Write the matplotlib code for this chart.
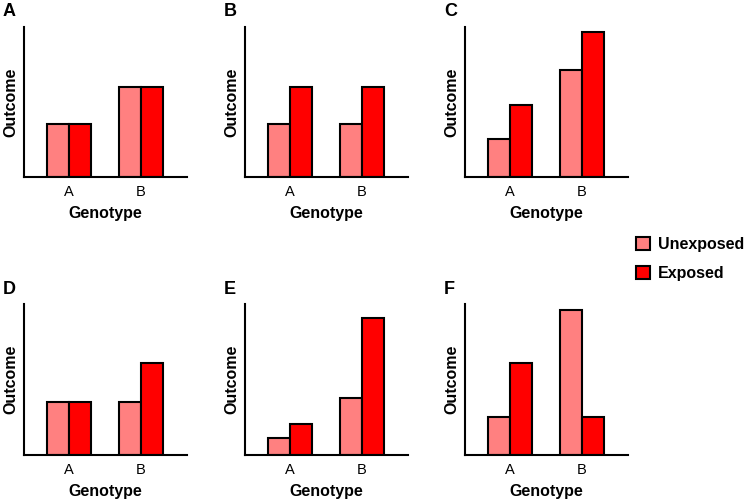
import matplotlib
matplotlib.use("Agg")
import matplotlib.pyplot as plt
import numpy as np

plt.rcParams['font.family'] = ['Liberation Sans', 'DejaVu Sans']

genotypes = ["A", "B"]
panel_names = ["A", "B", "C", "D", "E", "F"]
# outcome per panel, values for genotype A and B
unexposed = [[53, 90], [53, 53], [38, 107], [53, 53], [17, 57], [38, 144]]
exposed = [[53, 90], [90, 90], [72, 145], [53, 91], [31, 136], [91, 38]]

col_light = "#ff8080"
col_dark = "#ff0000"

fig = plt.figure(figsize=(7.5, 5.03), dpi=100)
W, H = 750.0, 503.0

# panel placement in pixels
lefts = [24, 245, 465]
tops = [27, 304]
bottoms = [177, 455]
width = 0.31

handles = None
for k in range(6):
    r, c = k // 3, k % 3
    ax = fig.add_axes([lefts[c] / W, 1 - bottoms[r] / H,
                       163 / W, (bottoms[r] - tops[r]) / H])
    x = np.arange(len(genotypes))
    b1 = ax.bar(x - width / 2, unexposed[k], width, color=col_light,
                edgecolor="black", linewidth=1.5)
    b2 = ax.bar(x + width / 2, exposed[k], width, color=col_dark,
                edgecolor="black", linewidth=1.5)
    handles = [b1, b2]
    ax.set_xlim(-0.625, 1.64)
    ax.set_ylim(0, 150)
    ax.set_xticks(x)
    ax.set_xticklabels(genotypes, fontsize=10.5)
    ax.tick_params(axis="x", length=0, pad=6)
    ax.set_yticks([])
    for s in ["top", "right"]:
        ax.spines[s].set_visible(False)
    for s in ["left", "bottom"]:
        ax.spines[s].set_linewidth(1.5)
    ax.set_xlabel("Genotype", fontsize=11.5, fontweight="bold", labelpad=5)
    ax.set_ylabel("Outcome", fontsize=11.5, fontweight="bold", labelpad=4)

    # panel letter
    lx = 3 if c == 0 else lefts[c] - 21
    fig.text(lx / W, 1 - (tops[r] - 15) / H, panel_names[k], fontsize=13,
             fontweight="bold", ha="left", va="center")

fig.legend(handles, ["Unexposed", "Exposed"], loc="upper left",
           bbox_to_anchor=(636 / W, 1 - 237 / H), frameon=False,
           prop={"weight": "bold", "size": 11.5},
           handlelength=0.85, handleheight=0.85, handletextpad=0.5,
           labelspacing=0.9, borderpad=0, borderaxespad=0)

fig.savefig("out.png", dpi=100)
